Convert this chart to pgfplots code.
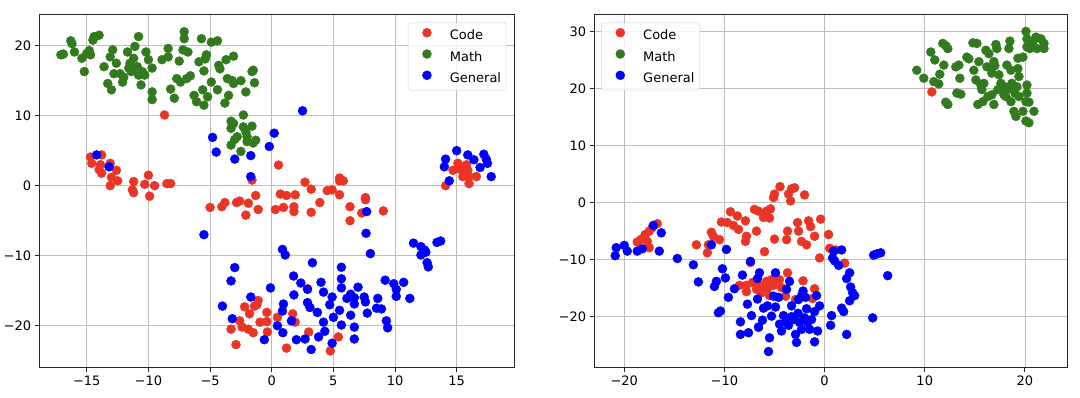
\documentclass[border=0pt]{standalone}
\usepackage{pgfplots}
\pgfplotsset{compat=1.18}
\usepackage{fontspec}
\setmainfont{DejaVu Sans}
\definecolor{cred}{RGB}{234,52,38}
\definecolor{cgreen}{RGB}{49,122,30}
\definecolor{cblue}{RGB}{0,0,255}
\definecolor{gridc}{RGB}{190,190,190}
\definecolor{legc}{RGB}{210,210,210}
\pgfplotsset{
  myaxis/.style={
    scale only axis, height=352.6pt,
    axis line style={line width=0.9pt, black!85},
    grid=major, grid style={gridc, line width=0.8pt},
    tick align=outside, xtick pos=bottom, ytick pos=left,
    major tick length=4.5pt, tick style={black!85, line width=0.9pt},
    ticklabel style={font=\fontsize{13}{15}\selectfont},
    legend cell align=left,
    legend style={font=\fontsize{13}{15}\selectfont, draw=legc, rounded corners=2.5pt,
      fill=white, fill opacity=0.8, text opacity=1, draw opacity=1,
      inner xsep=5.4pt, inner ysep=5.35pt, column sep=10.4pt, row sep=7.3pt,
      nodes={inner sep=0pt, text height=9.5pt, text depth=2.5pt}},
    legend image post style={fill opacity=1, draw opacity=1},
  },
  pts/.style={only marks, mark=*, mark size=4.5pt, color=#1, mark options={draw=#1, fill=#1},
    legend image code/.code={\path[draw=none, fill=none] (0pt,-4pt) rectangle (26pt,4pt); \draw[##1, only marks] plot coordinates {(13.5pt,3.5pt)};}},
}
\begin{document}
\begin{tikzpicture}
\useasboundingbox (0,0) rectangle (1080pt,397pt);
% ---------------- left ----------------
\begin{axis}[myaxis, at={(39.2pt,29.5pt)}, anchor=south west, width=474.8pt,
  xmin=-18.86, xmax=19.65, ymin=-25.97, ymax=24.4,
  xtick={-15,-10,-5,0,5,10,15}, xticklabels={−15,−10,−5,0,5,10,15},
  ytick={-20,-10,0,10,20}, yticklabels={−20,−10,0,10,20},
  legend style={at={(0.9846,0.978)}, anchor=north east}]
\addplot[pts=cred] coordinates {
(-14.7,4.1)(-14.6,3.2)(-13.8,4.4)(-13.9,3.0)(-14.0,2.3)(-13.8,1.8)(-13.1,3.2)(-12.6,2.2)(-13.0,1.2)(-12.5,0.7)(-13.1,0.0)(-11.2,0.6)(-10.0,1.5)(-10.3,0.2)(-9.5,0.0)(-8.5,0.3)(-8.2,0.3)(-11.2,-1.0)(-11.3,-0.6)(-9.9,-1.5)(-8.7,10.1)
(-5.0,-3.1)(-4.05,-3.0)(-3.8,-2.4)(-2.85,-2.4)(-2.6,-2.2)(-1.9,-2.5)(-1.3,-1.4)(-1.1,-3.4)(-2.1,-4.2)(-1.6,0.8)(0.3,-3.4)(0.55,2.95)(0.7,-1.2)(1.2,-1.4)(1.9,-1.3)(0.95,-3.1)(1.8,-3.0)(1.8,-3.7)(2.7,0.5)(3.2,-0.5)(3.2,-3.8)(3.9,-2.4)(4.5,-0.7)(4.9,-0.6)(5.5,1.1)(5.5,0.7)(5.8,0.7)(5.5,-1.3)(6.35,-3.0)(6.35,-5.0)(7.3,-3.9)(7.6,-1.7)(7.6,-2.0)(9.05,-3.6)
(14.1,0.0)(14.7,2.2)(15.1,3.2)(15.2,2.4)(15.5,2.0)(15.8,3.0)(15.9,2.2)(16.0,1.3)(16.0,0.3)(16.6,1.3)(15.5,1.3)(15.3,2.7)
(-2.2,-17.3)(-1.8,-18.3)(-1.4,-17.2)(-1.1,-16.4)(-0.4,-18.1)(-0.4,-19.4)(-0.95,-19.5)(-0.35,-20.9)(0.46,-18.8)(-2.6,-19.3)(-2.4,-20.2)(-1.9,-20.5)(-1.5,-21.0)(-3.3,-20.5)(-2.9,-22.7)(1.7,-18.3)(1.9,-19.5)(3.0,-20.9)(5.4,-21.6)(4.75,-23.6)(1.2,-23.2)(2.9,-14.7)(-1.2,-17.0)
};
\addlegendentry{Code}
\addplot[pts=cgreen] coordinates {
(-17.1,18.7)(-16.9,18.8)(-16.3,20.7)(-16.2,20.3)(-16.0,19.1)(-15.4,18.2)(-15.2,16.3)(-15.0,18.9)(-14.8,19.3)(-14.7,18.7)(-14.5,20.8)(-14.4,21.3)(-14.0,21.5)(-13.6,17.0)(-13.3,14.6)(-13.0,13.7)(-13.1,18.4)(-12.9,19.4)(-12.6,17.5)(-12.8,16.0)(-12.1,14.8)(-12.3,16.0)(-12.0,15.5)(-11.7,19.1)(-11.6,16.8)(-11.5,17.5)(-11.2,18.2)(-11.1,19.9)(-11.4,16.3)(-10.9,17.0)(-10.8,21.3)(-10.6,14.4)(-10.8,15.8)(-10.5,16.3)(-10.3,15.8)(-10.2,19.1)(-10.0,18.0)(-9.7,16.8)(-9.7,13.4)(-9.7,12.3)(-8.9,18.0)(-8.4,19.6)(-8.4,18.4)(-8.2,13.8)(-7.9,12.5)(-7.5,17.8)(-7.2,19.4)(-7.1,22.0)(-7.1,21.0)(-6.8,19.1)(-7.7,15.3)(-7.4,14.8)(-6.9,15.3)(-6.6,15.7)(-6.3,12.9)(-6.1,12.0)(-5.9,17.7)(-5.7,21.0)(-5.6,13.7)(-5.5,11.5)(-5.4,18.1)(-5.3,18.7)(-5.5,16.4)(-5.2,12.7)(-4.9,14.8)(-4.9,20.5)(-4.4,20.7)(-4.4,13.7)(-4.3,17.2)(-4.2,16.7)(-3.8,11.8)(-3.7,18.0)(-3.6,15.3)(-3.5,12.9)(-3.1,14.6)(-3.1,18.5)(-3.2,15.0)(-2.5,15.0)(-2.1,13.4)(-1.6,16.3)(-1.5,16.5)(-1.4,14.7)
(-3.3,9.2)(-3.1,8.9)(-3.3,8.2)(-2.8,7.0)(-3.0,6.6)(-3.3,5.8)(-2.3,10.1)(-2.3,8.4)(-2.1,7.7)(-1.6,8.5)(-2.0,7.0)(-2.0,6.3)(-1.3,6.5)(-1.5,6.1)(-2.5,4.9)
};
\addlegendentry{Math}
\addplot[pts=cblue] coordinates {
(-14.2,4.4)(-13.2,2.7)(-4.8,6.9)(-4.5,4.8)(-3.0,3.8)(-1.7,4.3)(-1.7,1.3)(-0.2,5.6)(0.2,7.5)(2.5,10.7)(-5.5,-7.0)(7.7,-3.7)(7.65,-6.8)(8.0,-9.7)(0.87,-9.1)(1.1,-9.9)(11.5,-8.2)(12.1,-8.7)(12.4,-9.2)(12.5,-9.5)(12.1,-9.9)(12.6,-11.0)(12.7,-11.6)(13.4,-8.1)(13.7,-7.9)
(15.0,5.0)(14.1,3.8)(14.0,2.7)(14.4,0.7)(15.9,4.4)(16.4,3.7)(16.9,2.6)(17.2,4.5)(17.4,3.8)(17.5,3.2)(17.8,1.3)
(-3.0,-11.7)(-3.3,-13.6)(3.3,-11.0)(5.65,-11.65)(5.65,-13.3)(5.65,-14.6)(1.77,-12.9)(2.36,-13.9)(2.9,-14.8)(4.0,-13.8)(4.2,-15.2)(-0.1,-14.6)(-1.7,-15.9)(1.8,-15.6)(0.95,-16.9)(0.87,-17.9)(2.9,-16.7)(3.1,-17.4)(3.7,-18.1)(4.9,-15.9)(4.7,-17.0)(5.5,-17.8)(5.0,-18.8)(6.4,-15.5)(6.7,-16.0)(6.7,-16.9)(6.1,-16.1)(7.0,-14.5)(6.4,-18.5)(7.5,-15.9)(7.6,-16.6)(7.75,-18.2)(8.6,-16.1)(8.5,-17.5)(8.9,-17.6)(9.2,-13.5)(9.9,-14.0)(10.1,-14.8)(10.1,-15.8)(10.7,-13.8)(11.2,-16.1)(9.3,-19.3)(9.4,-20.3)(5.65,-19.9)(6.7,-20.2)(6.7,-21.9)(4.2,-19.5)(4.3,-20.8)(3.8,-21.6)(4.9,-22.5)(3.2,-23.4)(2.7,-21.9)(2.0,-22.0)(1.6,-19.3)(0.9,-21.0)(0.46,-20.0)(-0.6,-22.0)(-3.2,-19.0)(-4.0,-17.2)
};
\addlegendentry{General}
\end{axis}
% ---------------- right ----------------
\begin{axis}[myaxis, at={(594.2pt,29.5pt)}, anchor=south west, width=472.8pt,
  xmin=-23.0, xmax=24.2, ymin=-28.9, ymax=32.9,
  xtick={-20,-10,0,10,20}, xticklabels={−20,−10,0,10,20},
  ytick={-20,-10,0,10,20,30}, yticklabels={−20,−10,0,10,20,30},
  legend style={at={(0.0148,0.978)}, anchor=north west}]
\addplot[pts=cred] coordinates {
(-4.45,2.8)(-3.6,1.5)(-3.3,2.4)(-3.0,2.6)(-3.4,0.3)(-2.0,1.35)(-5.1,0.9)(-5.0,1.5)(-7.0,-1.2)(-6.6,-1.5)(-6.1,-2.6)(-5.8,-1.5)(-5.4,-1.1)(-9.4,-1.6)(-8.7,-2.35)(-7.9,-3.2)(-10.3,-3.4)(-9.7,-3.5)(-9.1,-4.0)(-8.6,-4.7)(-6.8,-5.0)(-7.8,-5.9)(-7.9,-6.8)(-11.3,-5.2)(-11.1,-5.9)(-10.5,-6.5)(-12.8,-7.4)(-11.6,-7.4)(-11.7,-8.8)(-6.0,-8.6)(-5.0,-6.4)(-3.7,-5.0)(-3.8,-6.5)(-2.7,-3.5)(-2.6,-5.0)(-2.3,-6.8)(-1.8,-7.4)(-1.6,-3.2)(-1.0,-5.9)(-0.4,-2.9)(0.4,-5.6)(-0.5,-9.7)(-1.4,-4.2)(-5.5,-2.7)
(-16.7,-3.7)(-17.2,-4.4)(-17.9,-5.6)(-18.3,-6.4)(-18.7,-6.9)(-17.7,-6.8)(-17.5,-7.9)(-18.0,-6.2)(-17.5,-5.0)
(2.0,-10.6)(1.1,-8.3)(0.5,-8.0)(-7.4,-10.5)(10.7,19.4)
(-8.5,-14.5)(-7.8,-14.5)(-7.8,-15.6)(-6.8,-15.2)(-6.5,-14.5)(-6.3,-15.8)(-5.8,-13.8)(-5.7,-15.1)(-5.3,-13.5)(-5.1,-14.5)(-4.5,-13.5)(-4.3,-14.9)(-3.7,-12.3)(-2.15,-13.7)(-3.9,-16.4)(-2.9,-17.0)(-1.0,-15.1)(-1.2,-16.8)(-6.6,-21.9)(-6.0,-14.8)(-5.5,-16.3)(-7.2,-14.0)
};
\addlegendentry{Code}
\addplot[pts=cgreen] coordinates {
(9.2,23.2)(9.9,21.8)(10.6,26.4)(11.0,25.0)(10.9,21.2)(11.4,20.8)(11.8,27.9)(12.3,27.0)(12.1,27.5)(11.9,24.1)(11.5,22.5)(12.1,17.6)(12.3,17.2)(13.1,23.8)(13.4,24.1)(14.2,25.5)(14.4,25.2)(13.5,21.8)(13.2,19.2)(13.6,19.0)(14.8,28.0)(15.2,27.9)(15.4,24.7)(14.9,23.2)(15.1,21.5)(15.6,20.6)(15.9,20.9)(15.3,17.2)(15.8,17.7)(16.1,26.7)(16.4,26.1)(16.9,24.7)(17.1,27.7)(17.2,27.0)(16.7,22.7)(16.7,18.9)(16.9,17.2)(17.4,22.4)(17.6,20.9)(17.3,19.8)(17.9,18.9)(18.1,18.6)(18.5,28.3)(18.4,27.0)(18.2,24.1)(18.6,23.2)(18.7,20.9)(19.0,19.2)(18.6,17.7)(18.9,16.0)(19.1,15.1)(19.3,25.3)(19.3,23.5)(19.4,22.1)(19.8,25.5)(20.1,30.0)(20.2,28.7)(20.2,27.3)(20.2,20.6)(20.2,19.2)(20.1,17.7)(19.8,16.0)(20.4,17.6)(20.9,16.0)(20.4,14.0)(20.1,14.3)(21.1,29.0)(21.6,28.7)(21.9,27.9)(21.9,27.0)(21.2,27.0)(20.8,28.2)(20.5,27.0)(16.2,23.8)(17.0,24.0)(15.7,19.8)(16.3,18.6)(18.4,20.0)(19.2,20.3)(18.0,20.3)(19.4,18.6)
};
\addlegendentry{Math}
\addplot[pts=cblue] coordinates {
(-20.8,-7.9)(-20.9,-9.3)(-20.0,-7.5)(-19.7,-8.5)(-18.7,-8.5)(-18.2,-8.1)(-17.1,-4.0)(-16.3,-5.3)(-16.5,-8.5)(-14.7,-9.8)(-11.3,-7.4)(-9.8,-8.2)(0.9,-8.5)(1.7,-8.3)(0.8,-9.7)(4.9,-9.2)(5.2,-9.0)(5.6,-8.8)(6.3,-12.8)
(-13.1,-10.9)(-12.6,-13.9)(-10.2,-11.6)(-9.9,-13.2)(-10.8,-13.8)(-11.0,-14.7)(-10.6,-19.3)(-10.4,-19.0)(-9.6,-16.6)(-9.0,-15.1)(-8.2,-12.7)(-7.4,-10.3)(-6.5,-12.3)(-6.7,-13.3)(-4.9,-12.3)(-3.5,-13.8)(-3.8,-15.2)(-5.1,-16.4)(-6.7,-16.9)(-7.7,-17.8)(-7.3,-19.8)(-6.1,-18.5)(-5.7,-18.1)(-4.9,-18.3)(-5.3,-19.9)(-8.4,-20.9)(-8.4,-23.1)(-7.6,-22.8)(-6.6,-21.8)(-6.2,-20.6)(-5.5,-23.7)(-5.6,-26.1)(-4.1,-19.8)(-4.5,-21.3)(-4.3,-22.5)(-3.6,-21.5)(-3.3,-18.1)(-3.0,-20.5)(-2.9,-23.1)(-2.65,-19.4)(-2.5,-21.0)(-2.3,-22.2)(-2.15,-15.5)(-2.3,-16.3)(-1.9,-16.6)(-1.8,-18.6)(-1.7,-21.0)(-1.5,-22.2)(-1.0,-19.1)(-0.8,-16.3)(-0.5,-18.1)(-0.7,-22.5)(-1.0,-24.4)(-2.8,-24.5)(0.7,-19.8)(0.6,-21.5)(1.7,-18.5)(1.9,-19.1)(2.2,-23.1)(2.2,-13.3)(2.5,-12.3)(2.6,-14.8)(2.8,-15.8)(3.0,-16.3)(2.5,-17.2)(1.0,-10.2)(1.4,-11.0)(4.8,-20.2)(-4.6,-16.6)(-3.3,-20.0)(-2.0,-20.2)(-1.3,-20.5)(-3.9,-21.0)(-2.6,-17.0)
};
\addlegendentry{General}
\end{axis}
\end{tikzpicture}
\end{document}
